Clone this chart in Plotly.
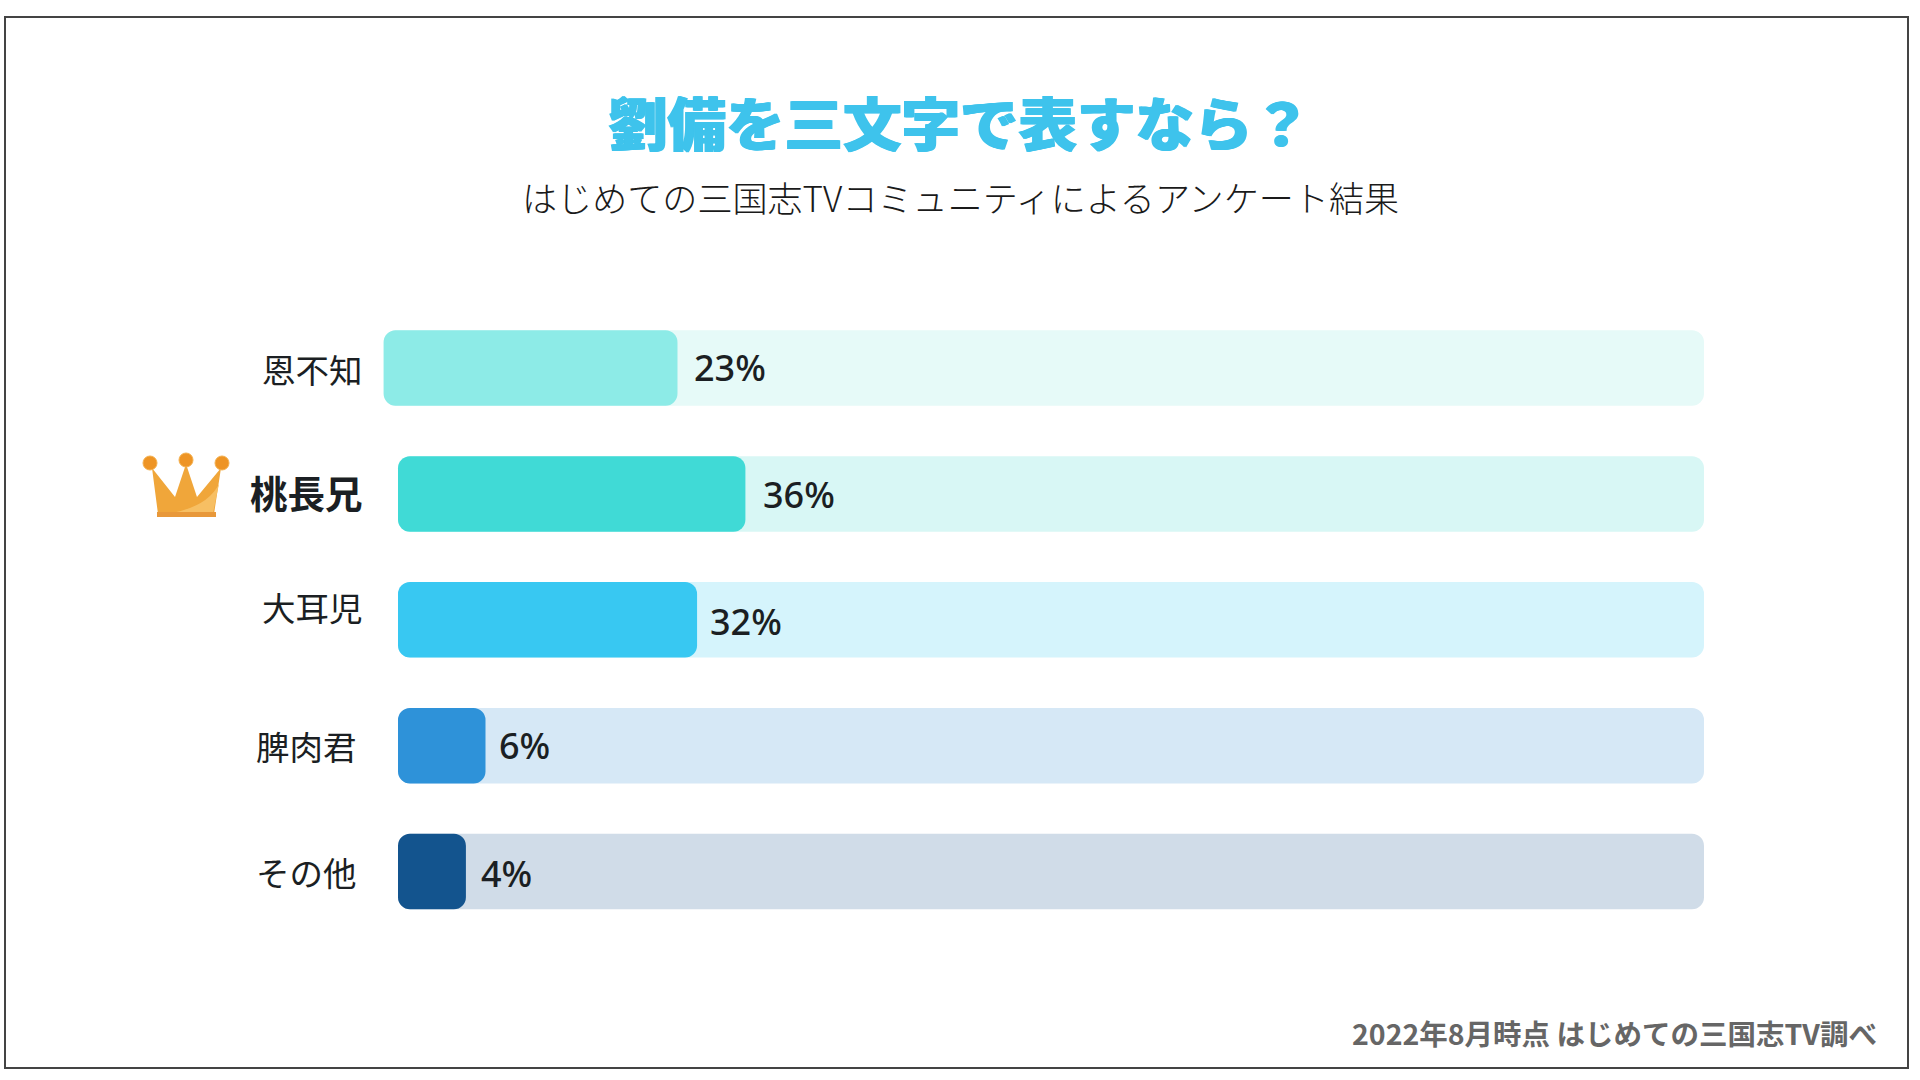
import plotly.graph_objects as go

categories = ["恩不知", "桃長兄", "大耳児", "脾肉君", "その他"]
percent_labels = ["23%", "36%", "32%", "6%", "4%"]
# bar extents as drawn in the picture, in percent of the full track
bar_start = [-1.1, 0, 0, 0, 0]
bar_length = [22.5, 26.6, 22.9, 6.7, 5.2]
track_length = [100 + 1.1, 100, 100, 100, 100]

bar_colors = ["#8DEBE7", "#40DAD6", "#38C8F2", "#2E92D9", "#13548E"]
track_colors = ["#E6FAF8", "#D8F7F5", "#D5F4FC", "#D6E8F6", "#D0DCE8"]

JP = "'Noto Sans CJK JP', 'Noto Sans', sans-serif"
LATIN = "'Noto Sans', 'Noto Sans CJK JP', sans-serif"
W, H = 1920, 1080
INK = "#1B1F23"
TITLE_C = "#3EC3EC"

fig = go.Figure()
fig.add_trace(go.Bar(y=categories, x=track_length, base=bar_start, orientation="h",
                     width=0.6, marker=dict(color=track_colors, line_width=0, cornerradius=12),
                     hoverinfo="skip", showlegend=False))
fig.add_trace(go.Bar(y=categories, x=bar_length, base=bar_start, orientation="h",
                     width=0.6, marker=dict(color=bar_colors, line_width=0, cornerradius=12),
                     showlegend=False))

label_shift_x = [-33, -33, -33, -39, -39]
label_shift_y = [0, 2, 13, 0, 0]
label_size = [33.5, 37.5, 33.5, 33.5, 33.5]
label_weight = [400, 700, 400, 400, 400]
for i, c in enumerate(categories):
    fig.add_annotation(x=0, y=c, xref="x", yref="y", text=c, showarrow=False, xanchor="right",
                       xshift=label_shift_x[i], yshift=label_shift_y[i],
                       font=dict(family=JP, size=label_size[i], weight=label_weight[i], color=INK))

value_shift_x = [15, 16, 11, 11, 13]
value_shift_y = [1, -1, -2, 0, -2]
for i, c in enumerate(categories):
    fig.add_annotation(x=bar_start[i] + bar_length[i], y=c, xref="x", yref="y", text=percent_labels[i],
                       showarrow=False, xanchor="left", xshift=value_shift_x[i], yshift=value_shift_y[i],
                       font=dict(family=LATIN, size=36, weight=500, color=INK))

def px(x, y, text, size, color, weight=400, anchor="center", family=JP, shadow=None):
    font = dict(family=family, size=size, color=color, weight=weight)
    if shadow:
        font["shadow"] = shadow
    fig.add_annotation(x=x / W, y=1 - y / H, xref="paper", yref="paper", text=text, showarrow=False,
                       xanchor=anchor, yanchor="middle", font=font)

px(960, 120, "劉備を三文字で表すなら？", 58.5, TITLE_C, 900,
   shadow=f"1px 0 0 {TITLE_C}, -1px 0 0 {TITLE_C}")
px(960, 197, "はじめての三国志TVコミュニティによるアンケート結果", 35.1, "#1A1A1A", 300)
px(1879, 1032, "2022年8月時点 はじめての三国志TV調べ", 28.5, "#666666", 600, "right")

def pshape(**kw):
    fig.add_shape(xref="paper", yref="paper", **kw)

def P(x, y):
    return f"{x / W:.5f},{1 - y / H:.5f}"

# outer frame
pshape(type="rect", x0=5 / W, x1=1908 / W, y0=1 - 17 / H, y1=1 - 1068 / H,
       line=dict(color="#444444", width=2), fillcolor="rgba(0,0,0,0)")

# crown
body = [(152, 468), (175, 497), (186, 464), (197, 497), (221, 468), (214, 514), (158, 514)]
path = "M " + " L ".join(P(*p) for p in body) + " Z"
pshape(type="path", path=path, fillcolor="#F0A63A", line_width=0)
hl = f"M {P(172, 513)} Q {P(208, 506)} {P(219, 484)} L {P(213, 513)} Z"
pshape(type="path", path=hl, fillcolor="#F7BF63", line_width=0)
pshape(type="rect", x0=157 / W, x1=216 / W, y0=1 - 512 / H, y1=1 - 517 / H, fillcolor="#E8983A", line_width=0)
for cx, cy in [(150, 463), (186, 460), (222, 463)]:
    pshape(type="circle", x0=(cx - 7) / W, x1=(cx + 7) / W, y0=1 - (cy - 7) / H, y1=1 - (cy + 7) / H,
           fillcolor="#EE9424", line=dict(color="#F4B04E", width=1))

fig.update_layout(
    width=W, height=H, margin=dict(l=0, r=0, t=0, b=0), autosize=False,
    paper_bgcolor="#FFFFFF", plot_bgcolor="rgba(0,0,0,0)", barmode="overlay", showlegend=False,
    xaxis=dict(range=[-398 / 13.06, (W - 398) / 13.06], visible=False, fixedrange=True),
    yaxis=dict(type="category", categoryorder="array", categoryarray=categories,
               range=[(H - 368) / 125.9, -368 / 125.9], visible=False, fixedrange=True),
)
fig.write_html("out.html", post_script="document.body.style.margin='0';document.body.style.overflow='hidden';",
               config={"displayModeBar": False})
